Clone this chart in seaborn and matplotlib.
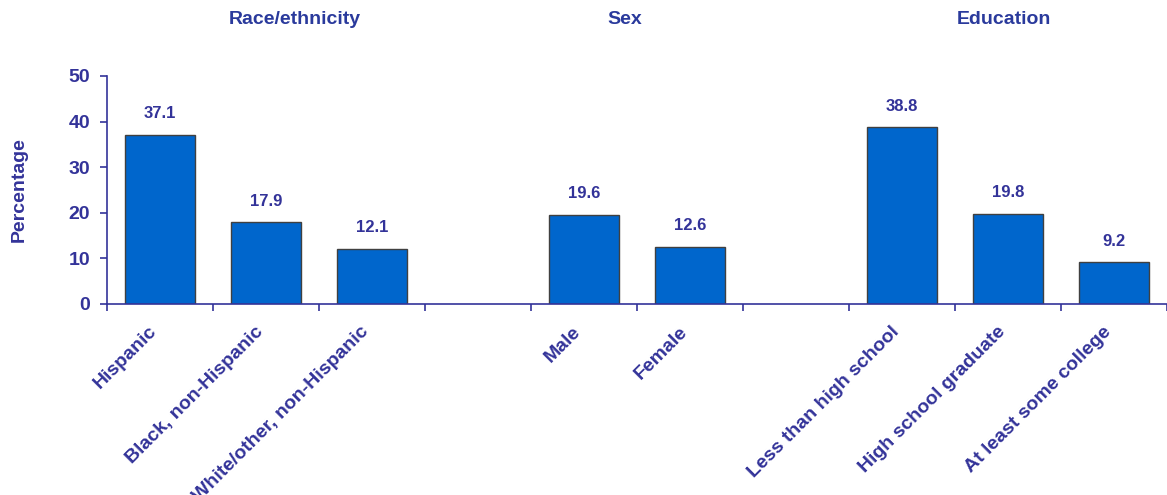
import matplotlib
matplotlib.use("Agg")
import matplotlib.pyplot as plt
import matplotlib.transforms as mtransforms
import seaborn as sns
import pandas as pd
import numpy as np

categories = ["Hispanic", "Black, non-Hispanic", "White/other, non-Hispanic",
              "Male", "Female",
              "Less than high school", "High school graduate", "At least some college"]
values = [37.1, 17.9, 12.1, 19.6, 12.6, 38.8, 19.8, 9.2]
order = ["Hispanic", "Black, non-Hispanic", "White/other, non-Hispanic", "gap1",
         "Male", "Female", "gap2",
         "Less than high school", "High school graduate", "At least some college"]
groups = ["Race/ethnicity", "Sex", "Education"]
group_pos = [1.27, 4.38, 7.96]
yticks = [0, 10, 20, 30, 40, 50]

navy = "#333399"
head = "#2A3A9C"
barc = "#0066CC"

sns.set_theme(style="white")
plt.rcParams['font.family'] = ['Liberation Sans', 'DejaVu Sans']

fig = plt.figure(figsize=(11.67, 4.95), dpi=100)
ax = fig.add_axes([107/1167, 1-304/495, 1-107/1167, (304-76)/495])

df = pd.DataFrame({"cat": categories, "val": values})
sns.barplot(data=df, x="cat", y="val", order=order, color=barc, width=0.667,
            edgecolor="#404040", linewidth=1.0, saturation=1, ax=ax)

ax.set_xlim(-0.5, 9.45)
ax.set_ylim(0, 50)
ax.set_yticks(yticks)
ax.set_yticklabels([str(t) for t in yticks], fontsize=14, fontweight="bold", color=navy)
ax.set_ylabel("Percentage", fontsize=14, fontweight="bold", color=navy)
ax.yaxis.set_label_coords(-0.0745, 0.5)
ax.set_xlabel("")

labels = [c if not c.startswith("gap") else "" for c in order]
ax.set_xticks(np.arange(len(order)))
ax.set_xticklabels(labels, rotation=45, ha="right", va="center", rotation_mode="anchor",
                   fontsize=14, fontweight="bold", color=navy)
ax.set_xticks(np.arange(len(order) + 1) - 0.5, minor=True)
ax.tick_params(axis="x", which="major", length=0, pad=18)
ax.tick_params(axis="x", which="minor", length=5, width=1.2, color=navy, direction="out", bottom=True)
ax.tick_params(axis="y", length=5, width=1.2, color=navy, direction="out", left=True, pad=7)

shift = mtransforms.ScaledTranslation(-4/72, 0, fig.dpi_scale_trans)
for lbl in ax.get_xticklabels():
    lbl.set_transform(lbl.get_transform() + shift)

for s in ["top", "right"]:
    ax.spines[s].set_visible(False)
for s in ["left", "bottom"]:
    ax.spines[s].set_color(navy)
    ax.spines[s].set_linewidth(1.2)

for c, v in zip(categories, values):
    x = order.index(c)
    ax.annotate(f"{v:.1f}", (x, v), xytext=(0, 15), textcoords="offset points",
                ha="center", va="center", fontsize=12, fontweight="bold", color=navy)

for g, gx in zip(groups, group_pos):
    ax.text(gx, 1.0 + (76-20)/(304-76), g, transform=ax.get_xaxis_transform(),
            ha="center", va="center", fontsize=14, fontweight="bold", color=head)

fig.savefig("out.png", dpi=100, facecolor="white")
